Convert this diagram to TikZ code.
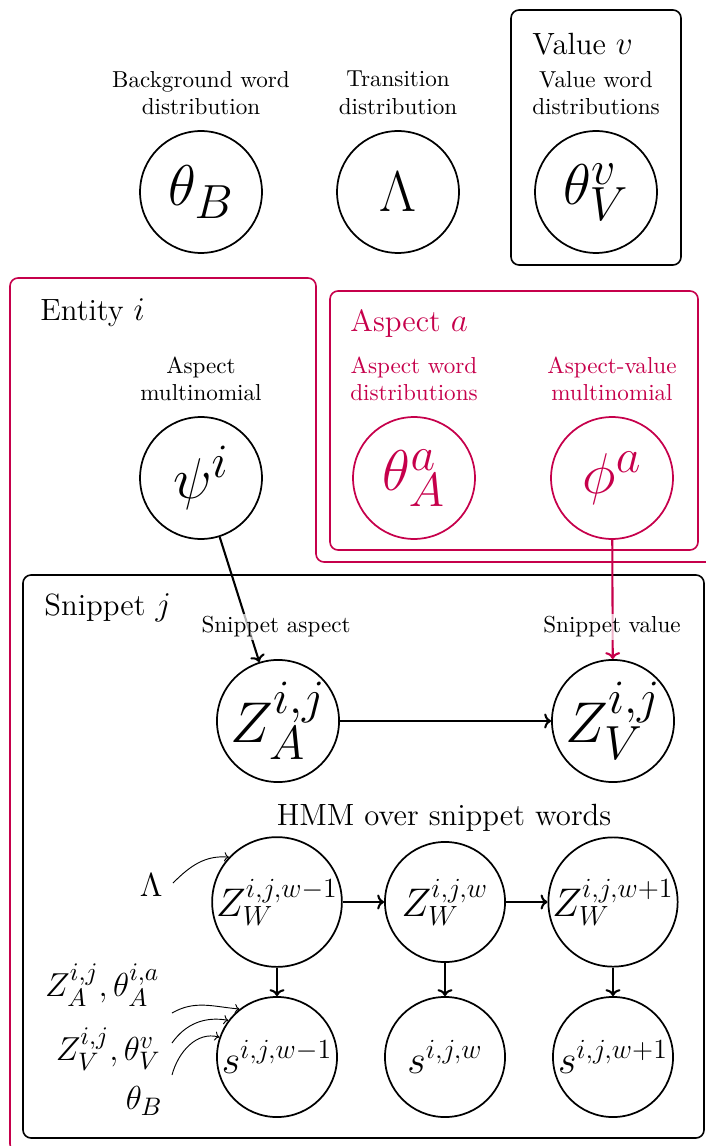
\documentclass[tikz,border=0pt]{standalone}
\usetikzlibrary{arrows.meta}
\definecolor{mred}{RGB}{198,0,75}
\tikzset{
  latent/.style={circle,draw,line width=0.75pt,minimum size=52.8pt,inner sep=0pt},
  plate/.style={draw,rounded corners=3.5pt,line width=0.7pt},
  lbl/.style={align=center,font=\normalsize,inner sep=1pt},
  ttl/.style={anchor=west,inner sep=0pt,font=\fontsize{13.3}{16}\selectfont},
  arr/.style={-{To[length=3pt,width=6.5pt]},line width=0.9pt},
  thinarr/.style={-{To[length=2pt,width=4pt]},line width=0.4pt},
  fade/.style={fill=white,fill opacity=0.7,text opacity=1},
  sidel/.style={inner sep=0pt,font=\fontsize{15.2}{18}\selectfont},
}
\begin{document}
\begin{tikzpicture}[x=0.433pt,y=-0.433pt]
\useasboundingbox (0,0) rectangle (706,1146);
\begin{scope}
\clip (0,0) rectangle (706,1146);
% plates
\draw[plate] (511,10) rectangle (681,265);
\draw[plate,mred] (10,1152) -- (10,278) -- (316,278) -- (316,562) -- (720,562) -- (720,1152) -- cycle;
\draw[plate,mred] (330,291) rectangle (698,550);
\draw[plate] (23,575) rectangle (704,1138);
\end{scope}
% plate titles
\node[ttl] (tV) at (532,44) {Value $v$};
\node[ttl] (tE) at (40,313) {Entity $i$};
\node[ttl,mred] (tA) at (350,324) {Aspect $a$};
\node[ttl] (tS) at (44,608) {Snippet $j$};
% top row
\node[lbl] (lB) at (201,93) {Background word\\distribution};
\node[lbl] (lL) at (398,93) {Transition\\distribution};
\node[lbl] (lV) at (596,93) {Value word\\distributions};
\node[latent,font=\Huge] (thB) at (201,192) {$\theta_B$};
\node[latent,font=\Huge] (Lam) at (398,192) {$\Lambda$};
\node[latent,font=\Huge] (thV) at (596,192) {$\theta_V^v$};
% middle row
\node[lbl] (lpsi) at (201,379) {Aspect\\multinomial};
\node[lbl,mred] (lthA) at (414,379) {Aspect word\\distributions};
\node[lbl,mred] (lphi) at (612,379) {Aspect-value\\multinomial};
\node[latent,font=\Huge] (psi) at (201,478) {$\psi^i$};
\node[latent,font=\Huge,draw=mred,text=mred] (thA) at (414,478) {$\theta_A^a$};
\node[latent,font=\Huge,draw=mred,text=mred] (phi) at (612,478) {$\phi^a$};
% snippet
\node[latent,font=\Huge] (ZA) at (278,721) {$Z_A^{i,j}$};
\node[latent,font=\Huge] (ZV) at (613,721) {$Z_V^{i,j}$};
\draw[arr] (psi) -- (ZA);
\draw[arr,mred] (phi) -- (ZV);
\node[lbl,fade] (lZA) at (276,627) {Snippet aspect};
\node[lbl,fade] (lZV) at (612,627) {Snippet value};
\draw[arr] (ZA) -- (ZV);
\node[font=\fontsize{13.3}{16}\selectfont] (hmm) at (444,818) {HMM over snippet words};
% HMM
\node[latent,font=\LARGE,minimum size=52pt] (W1) at (277,902) {$Z_W^{i,j,w-1}$};
\node[latent,font=\LARGE,minimum size=52pt] (W2) at (445,902) {$Z_W^{i,j,w}$};
\node[latent,font=\LARGE,minimum size=52pt] (W3) at (613,902) {$Z_W^{i,j,w+1}$};
\node[latent,font=\LARGE,minimum size=52pt] (S1) at (277,1057) {$s^{i,j,w-1}$};
\node[latent,font=\LARGE,minimum size=52pt] (S2) at (445,1057) {$s^{i,j,w}$};
\node[latent,font=\LARGE,minimum size=52pt] (S3) at (613,1057) {$s^{i,j,w+1}$};
\draw[arr] (W1) -- (W2);
\draw[arr] (W2) -- (W3);
\draw[arr] (W1) -- (S1);
\draw[arr] (W2) -- (S2);
\draw[arr] (W3) -- (S3);
% side labels
\node[sidel,anchor=east] (sL) at (163,885) {$\Lambda$};
\node[sidel,anchor=east] (sA) at (160,985) {$Z_A^{i,j},\theta_A^{i,a}$};
\node[sidel,anchor=east] (sV) at (161,1049) {$Z_V^{i,j},\theta_V^{v}$};
\node[sidel,anchor=east] (sB) at (163,1101) {$\theta_B$};
\coordinate (c0) at (173,883);
\coordinate (c1) at (172,1013);
\coordinate (c2) at (172,1043);
\coordinate (c3) at (172,1075);
\draw[thinarr] (c0) to[out=45,in=175] (W1.137);
\draw[thinarr] (c1) to[out=30,in=175] (S1.128);
\draw[thinarr] (c2) to[out=55,in=170] (S1.143);
\draw[thinarr] (c3) to[out=75,in=165] (S1.161);
\end{tikzpicture}
\end{document}
